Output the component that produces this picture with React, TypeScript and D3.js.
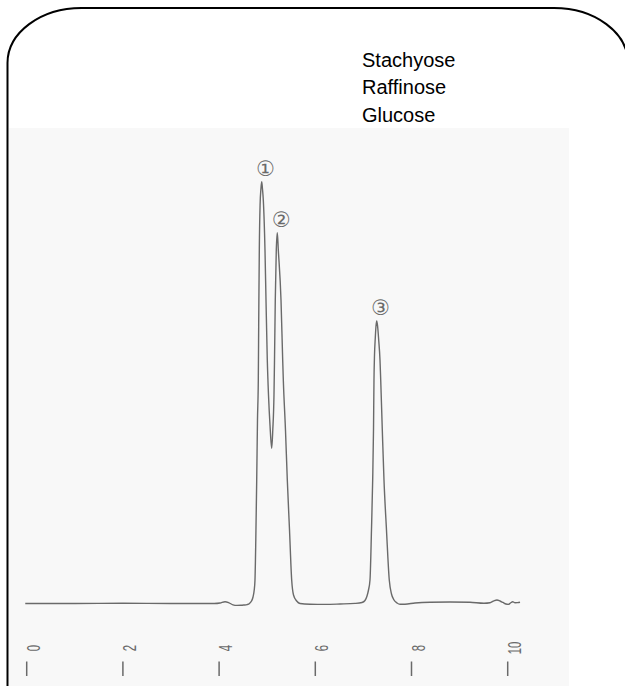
import React from "react";
import * as d3 from "d3";

// Retention time (min) and detector signal (relative units)
const times = [
  -0.03, 1.0, 2.0, 3.0, 3.9, 4.019, 4.123, 4.206, 4.289, 4.372, 4.455, 4.518, 4.58, 4.632,
  4.674, 4.705, 4.73, 4.746, 4.763, 4.782, 4.798, 4.815, 4.821, 4.827, 4.836, 4.852, 4.871,
  4.886, 4.9, 4.919, 4.954, 4.975, 5.002, 5.027, 5.058, 5.094, 5.116, 5.141, 5.152, 5.168,
  5.189, 5.21, 5.231, 5.287, 5.322, 5.335, 5.38, 5.418, 5.464, 5.509, 5.547, 5.613, 5.682,
  5.89, 6.202, 6.514, 6.825, 6.971, 7.033, 7.075, 7.106, 7.137, 7.168, 7.193, 7.21, 7.22,
  7.231, 7.247, 7.262, 7.277, 7.295, 7.318, 7.345, 7.36, 7.393, 7.428, 7.48, 7.538, 7.584,
  7.636, 7.699, 7.761, 7.865, 8.073, 8.385, 8.801, 9.216, 9.507, 9.632, 9.715, 9.777, 9.84,
  9.902, 9.964, 10.012, 10.058, 10.104, 10.152, 10.204, 10.256,
];
const signal = [
  0, 0, 0.05, 0, 0, 0.12, 0.43, 0.17, -0.31, -0.45, -0.43, -0.36, -0.26, 0,
  0.59, 1.54, 3.2, 5.57, 15.05, 29.28, 43.5, 52.99, 62.47, 71.95, 83.81, 94.48, 98.51,
  100, 98.51, 95.66, 83.81, 71.95, 57.73, 49.43, 42.32, 36.79, 41.13, 49.43, 57.73, 71.95,
  83.81, 87.91, 83.81, 71.95, 57.73, 52.99, 41.13, 29.28, 17.43, 5.57, 2.02, 0.59, 0,
  -0.17, -0.21, -0.12, 0.02, 0.24, 0.71, 1.78, 3.2, 5.57, 17.43, 29.28, 41.13, 52.99,
  58.91, 62.94, 65.79, 66.97, 65.79, 62.47, 57.73, 52.99, 41.13, 29.28, 17.43, 5.57, 2.25,
  0.83, 0.12, -0.19, -0.17, 0.12, 0.31, 0.36, 0.28, 0.05, 0.17, 0.64, 0.83, 0.59,
  0.24, -0.12, -0.21, 0.12, 0.4, 0.19, 0.21, 0.31,
];

const peakTimes = [4.886, 5.21, 7.277];
const peakHeights = [100, 87.91, 66.97];
const peakLabels = ["\u2460", "\u2461", "\u2462"];

const legendNames = ["Stachyose", "Raffinose", "Glucose"];
const xTicks = [0, 2, 4, 6, 8, 10];

const W = 625;
const H = 686;

export default function App() {
  const x = d3.scaleLinear().domain([0, 10]).range([26.7, 507.7]);
  const y = d3.scaleLinear().domain([0, 100]).range([603.5, 181.7]);
  const pts = times.map((t, i) => [t, signal[i]] as [number, number]);
  const line = d3
    .line<[number, number]>()
    .x((d) => x(d[0]))
    .y((d) => y(d[1]))
    .curve(d3.curveMonotoneX);

  // rounded frame (right side lies just outside the picture)
  const fl = 7.5, ft = 8, fr = 628, rx = 74, ry = 55;
  const framePath = `M${fl},${H + 10} L${fl},${ft + ry} A${rx},${ry} 0 0 1 ${fl + rx},${ft} L${fr - rx},${ft} A${rx},${ry} 0 0 1 ${fr},${ft + ry} L${fr},${H + 10}`;

  return (
    <svg
      width={W}
      height={H}
      style={{ position: "fixed", left: 0, top: 0, background: "#fff" }}
    >
      <rect x={9} y={128} width={560} height={H - 128} fill="#f8f8f8" />
      <path d={framePath} fill="none" stroke="#000" strokeWidth={2} />

      {legendNames.map((n, i) => (
        <text
          key={n}
          x={362}
          y={66.7 + i * 27.5}
          fontFamily="'Liberation Sans', Arial, sans-serif"
          fontSize={20}
          fill="#000"
        >
          {n}
        </text>
      ))}

      <path d={line(pts) || ""} fill="none" stroke="#6a6a6a" strokeWidth={1.4} strokeLinejoin="round" />

      {peakTimes.map((t, i) => (
        <text
          key={i}
          x={x(t) + 4}
          y={y(peakHeights[i]) - 13}
          textAnchor="middle"
          dominantBaseline="central"
          fontFamily="'DejaVu Sans', sans-serif"
          fontSize={21}
          fill="#6a6a6a"
        >
          {peakLabels[i]}
        </text>
      ))}

      {xTicks.map((t) => (
        <g key={t}>
          <line x1={x(t)} x2={x(t)} y1={661.5} y2={676} stroke="#6a6a6a" strokeWidth={1.5} />
          <text
            transform={`translate(${x(t) + 13},648) rotate(-90) scale(0.65,1)`}
            textAnchor="middle"
            fontFamily="'Liberation Sans', Arial, sans-serif"
            fontSize={17.5}
            fill="#6a6a6a"
          >
            {t}
          </text>
        </g>
      ))}
    </svg>
  );
}
